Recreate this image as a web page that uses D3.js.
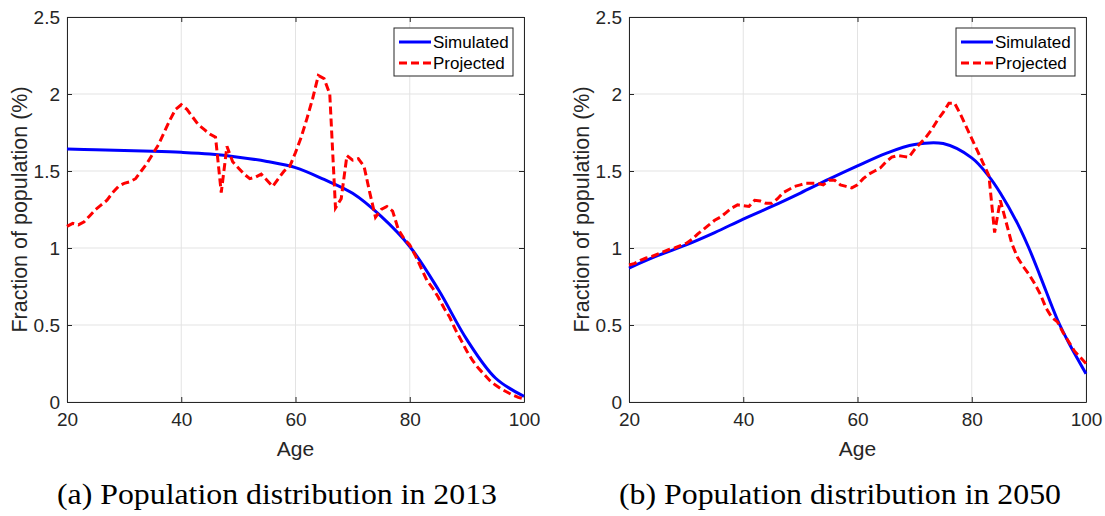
<!DOCTYPE html>
<html>
<head>
<meta charset="utf-8">
<script src="https://cdn.jsdelivr.net/npm/d3@7"></script>
<style>
  body { margin: 0; background: #fff; }
  svg { display: block; }
</style>
</head>
<body>
<script>
// Ages for the yearly projected series
var ages = d3.range(20, 101);

// Projected (red dashed), one value per year of age, 20..100
var proj2013 = [1.14, 1.16, 1.15, 1.17, 1.21, 1.25, 1.28, 1.31, 1.36, 1.40,
                1.42, 1.43, 1.45, 1.50, 1.55, 1.61, 1.67, 1.75, 1.83, 1.90,
                1.93, 1.90, 1.85, 1.80, 1.77, 1.74, 1.72, 1.36, 1.66, 1.56,
                1.52, 1.48, 1.45, 1.46, 1.48, 1.44, 1.40, 1.45, 1.50, 1.53,
                1.62, 1.72, 1.84, 1.97, 2.12, 2.10, 2.00, 1.26, 1.32, 1.60,
                1.57, 1.58, 1.53, 1.36, 1.20, 1.25, 1.27, 1.24, 1.12, 1.06,
                1.02, 0.95, 0.87, 0.79, 0.74, 0.68, 0.61, 0.55, 0.47, 0.40,
                0.33, 0.27, 0.22, 0.18, 0.14, 0.11, 0.085, 0.065, 0.045, 0.03,
                0.02];

var proj2050 = [0.89, 0.90, 0.92, 0.935, 0.945, 0.96, 0.975, 0.99, 1.00, 1.015,
                1.03, 1.055, 1.09, 1.12, 1.15, 1.18, 1.20, 1.23, 1.26, 1.28,
                1.275, 1.27, 1.31, 1.305, 1.29, 1.29, 1.32, 1.36, 1.38, 1.40,
                1.41, 1.42, 1.42, 1.42, 1.41, 1.44, 1.44, 1.41, 1.40, 1.39,
                1.41, 1.45, 1.48, 1.50, 1.52, 1.56, 1.59, 1.60, 1.595, 1.59,
                1.64, 1.68, 1.72, 1.77, 1.83, 1.88, 1.94, 1.94, 1.87, 1.79,
                1.71, 1.63, 1.55, 1.47, 1.10, 1.31, 1.17, 1.03, 0.94, 0.88,
                0.83, 0.77, 0.70, 0.61, 0.55, 0.52, 0.45, 0.39, 0.33, 0.29,
                0.25];

// Simulated (blue solid), sampled along the smooth curve
var simAges2013 = [20, 25, 30, 35, 40, 45, 50, 55, 60, 65, 70, 75, 80, 85, 90, 95, 100];
var sim2013 = [1.643, 1.638, 1.633, 1.628, 1.621, 1.610, 1.590, 1.562, 1.522, 1.445,
               1.355, 1.205, 1.01, 0.73, 0.405, 0.156, 0.036];

var simAges2050 = [20, 25, 30, 35, 40, 45, 50, 55, 60, 65, 70, 75, 80, 83, 85, 88, 90, 92, 95, 97, 100];
var sim2050 = [0.87, 0.95, 1.02, 1.10, 1.188, 1.27, 1.357, 1.447, 1.533, 1.615,
               1.672, 1.678, 1.585, 1.465, 1.357, 1.16, 1.0, 0.816,
               0.534, 0.383, 0.184];

var xTicks = [20, 40, 60, 80, 100];
var yTicks = [0, 0.5, 1, 1.5, 2, 2.5];
var seriesNames = ["Simulated", "Projected"];
var captions = ["(a) Population distribution in 2013", "(b) Population distribution in 2050"];

var W = 1105, H = 516;
var axisColor = "#262626";
var sans = "'Liberation Sans', Arial, Helvetica, sans-serif";

var svg = d3.select("body").append("svg")
    .attr("width", W)
    .attr("height", H);

svg.append("rect").attr("width", W).attr("height", H).attr("fill", "#fff");

function drawPanel(left, right, projected, simAges, sim, caption, capLeft, capRight) {
    var top = 17, bottom = 402;

    var x = d3.scaleLinear().domain([20, 100]).range([left, right]);
    var y = d3.scaleLinear().domain([0, 2.5]).range([bottom, top]);

    var g = svg.append("g");

    // grid
    g.selectAll(".gx").data(xTicks).enter().append("line")
        .attr("x1", d => x(d)).attr("x2", d => x(d))
        .attr("y1", top).attr("y2", bottom)
        .attr("stroke", "#e3e3e3").attr("stroke-width", 1);
    g.selectAll(".gy").data(yTicks).enter().append("line")
        .attr("x1", left).attr("x2", right)
        .attr("y1", d => y(d)).attr("y2", d => y(d))
        .attr("stroke", "#e3e3e3").attr("stroke-width", 1);

    // axes, ticks pointing inward
    var bottomAxis = g.append("g")
        .attr("transform", "translate(0," + bottom + ")")
        .call(d3.axisBottom(x).tickValues(xTicks).tickSize(-5).tickSizeOuter(0).tickPadding(11));
    var leftAxis = g.append("g")
        .attr("transform", "translate(" + left + ",0)")
        .call(d3.axisLeft(y).tickValues(yTicks).tickSize(-5).tickSizeOuter(0).tickPadding(7)
              .tickFormat(d3.format("")));
    var topAxis = g.append("g")
        .attr("transform", "translate(0," + top + ")")
        .call(d3.axisTop(x).tickValues(xTicks).tickSize(-5).tickSizeOuter(0).tickFormat(""));
    var rightAxis = g.append("g")
        .attr("transform", "translate(" + right + ",0)")
        .call(d3.axisRight(y).tickValues(yTicks).tickSize(-5).tickSizeOuter(0).tickFormat(""));

    [bottomAxis, leftAxis, topAxis, rightAxis].forEach(function(a) {
        a.selectAll("path, line").attr("stroke", axisColor).attr("stroke-width", 1);
        a.selectAll("text").attr("fill", axisColor)
            .style("font-family", sans).style("font-size", "19px");
    });

    // curves
    var projLine = d3.line()
        .x((d, i) => x(ages[i]))
        .y(d => y(d));
    var simLine = d3.line()
        .x((d, i) => x(simAges[i]))
        .y(d => y(d))
        .curve(d3.curveCatmullRom.alpha(0.5));

    g.append("path")
        .datum(sim)
        .attr("d", simLine)
        .attr("fill", "none")
        .attr("stroke", "#0000ff")
        .attr("stroke-width", 3);

    g.append("path")
        .datum(projected)
        .attr("d", projLine)
        .attr("fill", "none")
        .attr("stroke", "#ff0000")
        .attr("stroke-width", 3)
        .attr("stroke-dasharray", "8,4");

    // axis titles
    g.append("text")
        .attr("x", (left + right) / 2)
        .attr("y", 456)
        .attr("text-anchor", "middle")
        .attr("fill", axisColor)
        .style("font-family", sans).style("font-size", "21px")
        .text("Age");

    g.append("text")
        .attr("transform", "translate(" + (left - 40) + "," + ((top + bottom) / 2) + ") rotate(-90)")
        .attr("text-anchor", "middle")
        .attr("fill", axisColor)
        .style("font-family", sans).style("font-size", "21.5px")
        .text("Fraction of population (%)");

    // legend
    var lx = right - 130, ly = 28;
    var lg = g.append("g");
    lg.append("rect")
        .attr("x", lx).attr("y", ly)
        .attr("width", 119).attr("height", 48)
        .attr("fill", "#fff")
        .attr("stroke", axisColor).attr("stroke-width", 1);

    var legendStyles = [
        {color: "#0000ff", dash: null},
        {color: "#ff0000", dash: "8,4"}
    ];
    seriesNames.forEach(function(name, i) {
        var rowY = ly + 14 + i * 21;
        lg.append("line")
            .attr("x1", lx + 5).attr("x2", lx + 37)
            .attr("y1", rowY).attr("y2", rowY)
            .attr("stroke", legendStyles[i].color)
            .attr("stroke-width", 3)
            .attr("stroke-dasharray", legendStyles[i].dash);
        lg.append("text")
            .attr("x", lx + 39)
            .attr("y", rowY + 6)
            .attr("fill", "#000")
            .style("font-family", sans).style("font-size", "17px")
            .text(name);
    });

    // caption
    g.append("text")
        .attr("x", capLeft)
        .attr("y", 504)
        .attr("textLength", capRight - capLeft)
        .attr("lengthAdjust", "spacingAndGlyphs")
        .attr("fill", "#000")
        .style("font-family", "'Liberation Serif', 'Times New Roman', serif")
        .style("font-size", "29px")
        .text(caption);
}

drawPanel(67, 524, proj2013, simAges2013, sim2013, captions[0], 57, 497);
drawPanel(629, 1086, proj2050, simAges2050, sim2050, captions[1], 619, 1061);
</script>
</body>
</html>
